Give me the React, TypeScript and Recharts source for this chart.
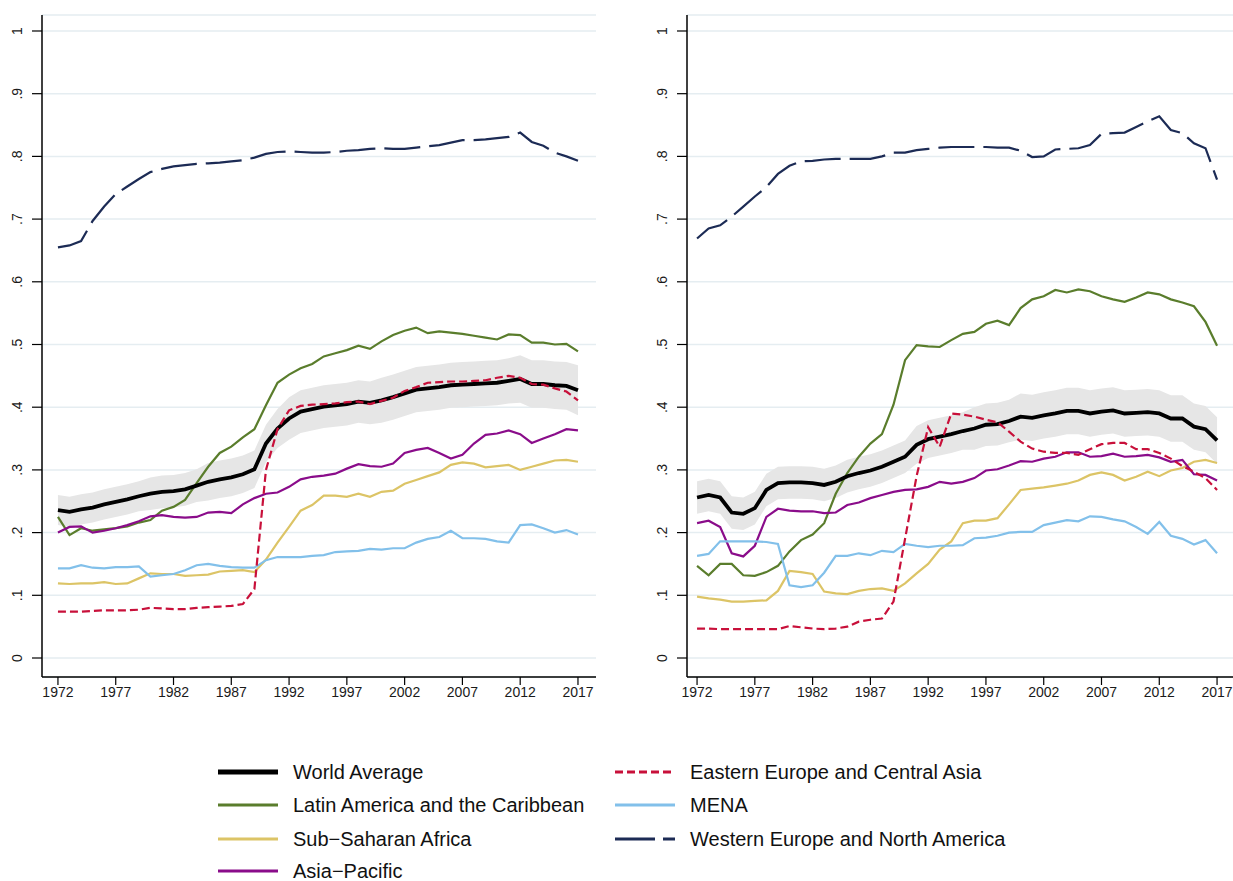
import { ComposedChart, Line, Area, XAxis, YAxis, CartesianGrid } from "recharts";

const years = [
  1972, 1973, 1974, 1975, 1976, 1977, 1978, 1979, 1980, 1981, 1982, 1983, 1984, 1985, 1986, 1987,
  1988, 1989, 1990, 1991, 1992, 1993, 1994, 1995, 1996, 1997, 1998, 1999, 2000, 2001, 2002, 2003,
  2004, 2005, 2006, 2007, 2008, 2009, 2010, 2011, 2012, 2013, 2014, 2015, 2016, 2017,
];
const xTicks = [1972, 1977, 1982, 1987, 1992, 1997, 2002, 2007, 2012, 2017];
const yTicks = [0, 0.1, 0.2, 0.3, 0.4, 0.5, 0.6, 0.7, 0.8, 0.9, 1];

// left panel
const worldA = [.236,.233,.237,.240,.245,.249,.253,.258,.262,.265,.266,.269,.275,.281,.285,.288,.293,.301,.342,.366,.382,.393,.397,.401,.403,.405,.409,.407,.411,.416,.422,.428,.430,.432,.435,.436,.437,.438,.439,.442,.445,.437,.437,.435,.434,.427];
const worldHiA = [.260,.257,.261,.264,.269,.273,.277,.282,.288,.291,.292,.295,.301,.311,.315,.318,.323,.331,.372,.397,.416,.427,.431,.435,.437,.439,.443,.441,.447,.452,.458,.464,.466,.468,.471,.472,.473,.474,.475,.478,.483,.475,.475,.473,.472,.467];
const worldLoA = [.212,.209,.213,.216,.221,.225,.229,.234,.236,.239,.240,.243,.249,.251,.255,.258,.263,.271,.312,.335,.348,.359,.363,.367,.369,.371,.375,.373,.375,.380,.386,.392,.394,.396,.399,.400,.401,.402,.403,.406,.407,.399,.399,.397,.396,.387];
const latamA = [.225,.196,.207,.203,.205,.207,.210,.216,.220,.235,.241,.252,.279,.305,.327,.337,.352,.365,.403,.439,.452,.462,.469,.481,.486,.491,.498,.493,.505,.515,.522,.527,.518,.521,.519,.517,.514,.511,.508,.516,.515,.503,.503,.500,.501,.489];
const ssaA = [.119,.118,.119,.119,.121,.118,.119,.127,.135,.134,.134,.131,.132,.133,.138,.139,.140,.137,.157,.184,.209,.235,.244,.259,.259,.257,.262,.257,.265,.267,.278,.284,.290,.296,.308,.312,.310,.304,.306,.308,.300,.305,.310,.315,.316,.313];
const asiaA = [.200,.209,.210,.200,.203,.207,.212,.218,.226,.228,.225,.224,.225,.232,.233,.231,.245,.255,.262,.264,.273,.285,.289,.291,.294,.302,.309,.306,.305,.310,.327,.332,.335,.327,.318,.324,.342,.356,.358,.363,.357,.343,.350,.357,.365,.363];
const eecaA = [.074,.074,.074,.075,.076,.076,.076,.077,.080,.079,.078,.078,.080,.081,.082,.083,.086,.110,.300,.365,.395,.402,.404,.405,.406,.408,.409,.405,.410,.415,.426,.432,.439,.440,.441,.441,.442,.443,.447,.450,.447,.437,.436,.430,.425,.411];
const menaA = [.143,.143,.148,.144,.143,.145,.145,.146,.130,.132,.134,.140,.148,.150,.147,.145,.144,.144,.156,.161,.161,.161,.163,.164,.169,.170,.171,.174,.173,.175,.175,.184,.190,.193,.203,.191,.191,.190,.186,.184,.212,.213,.207,.200,.204,.197];
const wenaA = [.655,.658,.665,.697,.720,.740,.752,.764,.775,.780,.784,.786,.788,.789,.790,.792,.794,.798,.804,.807,.808,.807,.806,.806,.807,.809,.810,.812,.813,.812,.812,.814,.816,.818,.822,.826,.826,.827,.829,.831,.838,.823,.817,.806,.800,.793];

// right panel
const worldB = [.256,.260,.256,.232,.230,.239,.268,.279,.280,.280,.279,.276,.281,.290,.295,.299,.305,.313,.321,.340,.349,.353,.357,.362,.366,.372,.373,.378,.385,.383,.387,.390,.394,.394,.390,.393,.395,.390,.391,.392,.390,.382,.382,.369,.365,.347];
const worldHiB = [.282,.286,.282,.258,.256,.265,.294,.305,.306,.306,.305,.302,.307,.316,.321,.325,.331,.339,.347,.370,.379,.383,.387,.392,.400,.406,.407,.412,.422,.420,.424,.427,.431,.431,.427,.430,.432,.427,.428,.429,.427,.419,.419,.406,.402,.384];
const worldLoB = [.230,.234,.230,.206,.204,.213,.242,.253,.254,.254,.253,.250,.255,.264,.269,.273,.279,.287,.295,.310,.319,.323,.327,.332,.332,.338,.339,.344,.348,.346,.350,.353,.357,.357,.353,.356,.358,.353,.354,.355,.353,.345,.345,.332,.328,.310];
const latamB = [.147,.132,.150,.150,.132,.131,.137,.147,.170,.188,.197,.215,.262,.295,.321,.342,.357,.404,.475,.499,.497,.496,.507,.517,.520,.533,.538,.531,.558,.572,.577,.587,.583,.588,.585,.577,.572,.568,.575,.583,.580,.572,.567,.561,.536,.498];
const ssaB = [.098,.095,.093,.090,.090,.091,.092,.107,.139,.137,.134,.106,.103,.102,.107,.110,.111,.107,.119,.135,.150,.173,.186,.215,.219,.219,.223,.245,.268,.270,.272,.275,.278,.283,.292,.296,.292,.283,.289,.297,.290,.299,.303,.313,.316,.311];
const asiaB = [.215,.219,.209,.167,.162,.179,.225,.238,.235,.234,.234,.231,.232,.244,.248,.255,.260,.265,.268,.269,.273,.281,.278,.281,.287,.299,.301,.307,.314,.313,.318,.321,.328,.328,.321,.322,.326,.321,.322,.324,.320,.313,.316,.293,.292,.283];
const eecaB = [.047,.047,.046,.046,.046,.046,.046,.046,.051,.049,.047,.046,.047,.050,.058,.061,.063,.090,.190,.290,.368,.337,.390,.388,.385,.380,.376,.361,.345,.334,.329,.327,.327,.324,.333,.341,.343,.343,.333,.333,.327,.318,.306,.297,.287,.268];
const menaB = [.163,.166,.186,.186,.186,.186,.185,.182,.116,.113,.116,.136,.163,.163,.167,.164,.171,.169,.182,.179,.177,.179,.179,.180,.191,.192,.195,.200,.201,.201,.212,.216,.220,.218,.226,.225,.221,.218,.209,.198,.217,.195,.190,.181,.188,.167];
const wenaB = [.669,.685,.690,.704,.720,.736,.751,.772,.785,.792,.793,.795,.796,.796,.796,.796,.800,.806,.806,.810,.812,.814,.815,.815,.815,.815,.814,.814,.809,.799,.800,.811,.812,.813,.818,.836,.837,.838,.847,.856,.864,.842,.837,.821,.813,.763];

const FONT = "'Liberation Sans', Arial, Helvetica, sans-serif";
const C = {
  world: "#000000",
  latam: "#5a7d2c",
  ssa: "#dcc466",
  asia: "#8a0c8a",
  eeca: "#c8103a",
  mena: "#82c0ea",
  wena: "#1c2b55",
};

const legendItems = [
  { label: "World Average", color: C.world, width: 5, dash: undefined as string | undefined, col: 0, row: 0 },
  { label: "Latin America and the Caribbean", color: C.latam, width: 3, dash: undefined, col: 0, row: 1 },
  { label: "Sub\u2212Saharan Africa", color: C.ssa, width: 3, dash: undefined, col: 0, row: 2 },
  { label: "Asia\u2212Pacific", color: C.asia, width: 3, dash: undefined, col: 0, row: 3 },
  { label: "Eastern Europe and Central Asia", color: C.eeca, width: 3, dash: "8 4", col: 1, row: 0 },
  { label: "MENA", color: C.mena, width: 3, dash: undefined, col: 1, row: 1 },
  { label: "Western Europe and North America", color: C.wena, width: 3, dash: "40 8", col: 1, row: 2 },
];

function buildRows(world: number[], lo: number[], hi: number[], latam: number[], ssa: number[], asia: number[], eeca: number[], mena: number[], wena: number[]) {
  return years.map((year, i) => ({
    year,
    band: [lo[i], hi[i]],
    world: world[i],
    latam: latam[i],
    ssa: ssa[i],
    asia: asia[i],
    eeca: eeca[i],
    mena: mena[i],
    wena: wena[i],
  }));
}

const fmtY = (v: number) => (v === 0 ? "0" : v === 1 ? "1" : v.toFixed(1).replace(/^0/, ""));

const YTick = (props: any) => {
  const { x, y, payload } = props;
  const tx = x - 8;
  return (
    <text x={tx} y={y} transform={`rotate(-90 ${tx} ${y})`} textAnchor="middle" fontSize={14} fill="#1a1a1a" fontFamily={FONT}>
      {fmtY(payload.value)}
    </text>
  );
};

type PanelProps = { data: any[]; left: number; width: number; marginRight: number; domain: [number, number] };

function Panel({ data, left, width, marginRight, domain }: PanelProps) {
  return (
    <div style={{ position: "absolute", left, top: 0 }}>
      <ComposedChart width={width} height={720} data={data} margin={{ top: 15, right: marginRight, left: 0, bottom: 0 }}>
        <CartesianGrid vertical={false} stroke="#e5edf1" strokeWidth={1.5} />
        <XAxis
          dataKey="year"
          type="number"
          domain={domain}
          ticks={xTicks}
          allowDataOverflow
          height={43}
          tickSize={8}
          tick={{ fontSize: 14, fill: "#1a1a1a", fontFamily: FONT }}
          axisLine={{ stroke: "#000", strokeWidth: 1.5 }}
          tickLine={{ stroke: "#000", strokeWidth: 1.2 }}
        />
        <YAxis
          type="number"
          domain={[-0.0303, 1.0255]}
          ticks={yTicks}
          allowDataOverflow
          width={42}
          tickSize={10}
          tick={<YTick />}
          axisLine={{ stroke: "#000", strokeWidth: 1.5 }}
          tickLine={{ stroke: "#000", strokeWidth: 1.2 }}
        />
        <Area dataKey="band" type="linear" fill="#e6e6e6" fillOpacity={1} stroke="none" isAnimationActive={false} />
        <Line dataKey="latam" type="linear" stroke={C.latam} strokeWidth={2.2} dot={false} isAnimationActive={false} />
        <Line dataKey="ssa" type="linear" stroke={C.ssa} strokeWidth={2.2} dot={false} isAnimationActive={false} />
        <Line dataKey="asia" type="linear" stroke={C.asia} strokeWidth={2.2} dot={false} isAnimationActive={false} />
        <Line dataKey="mena" type="linear" stroke={C.mena} strokeWidth={2.2} dot={false} isAnimationActive={false} />
        <Line dataKey="wena" type="linear" stroke={C.wena} strokeWidth={2.2} strokeDasharray="36 9" dot={false} isAnimationActive={false} />
        <Line dataKey="world" type="linear" stroke={C.world} strokeWidth={3.8} dot={false} isAnimationActive={false} />
        <Line dataKey="eeca" type="linear" stroke={C.eeca} strokeWidth={2.2} strokeDasharray="8 4" dot={false} isAnimationActive={false} />
      </ComposedChart>
    </div>
  );
}

function Legend() {
  const colX = [218, 615];
  const rowY = [772, 805, 839, 871];
  return (
    <>
      {legendItems.map((it) => (
        <div key={it.label}>
          <svg style={{ position: "absolute", left: colX[it.col], top: rowY[it.row] - 5 }} width={60} height={10}>
            <line x1={0} y1={5} x2={60} y2={5} stroke={it.color} strokeWidth={it.width} strokeDasharray={it.dash} />
          </svg>
          <div
            style={{
              position: "absolute",
              left: colX[it.col] + 75,
              top: rowY[it.row] - 10,
              fontSize: 20,
              lineHeight: "20px",
              fontFamily: FONT,
              color: "#111",
              whiteSpace: "nowrap",
            }}
          >
            {it.label}
          </div>
        </div>
      ))}
    </>
  );
}

export default function App() {
  const dataA = buildRows(worldA, worldLoA, worldHiA, latamA, ssaA, asiaA, eecaA, menaA, wenaA);
  const dataB = buildRows(worldB, worldLoB, worldHiB, latamB, ssaB, asiaB, eecaB, menaB, wenaB);
  return (
    <div style={{ position: "absolute", left: 0, top: 0, width: 1233, height: 881, background: "#fff", overflow: "hidden" }}>
      <Panel data={dataA} left={0} width={600} marginRight={4} domain={[1970.62, 2018.56]} />
      <Panel data={dataB} left={645} width={588} marginRight={0} domain={[1971.13, 2018.38]} />
      <Legend />
    </div>
  );
}
